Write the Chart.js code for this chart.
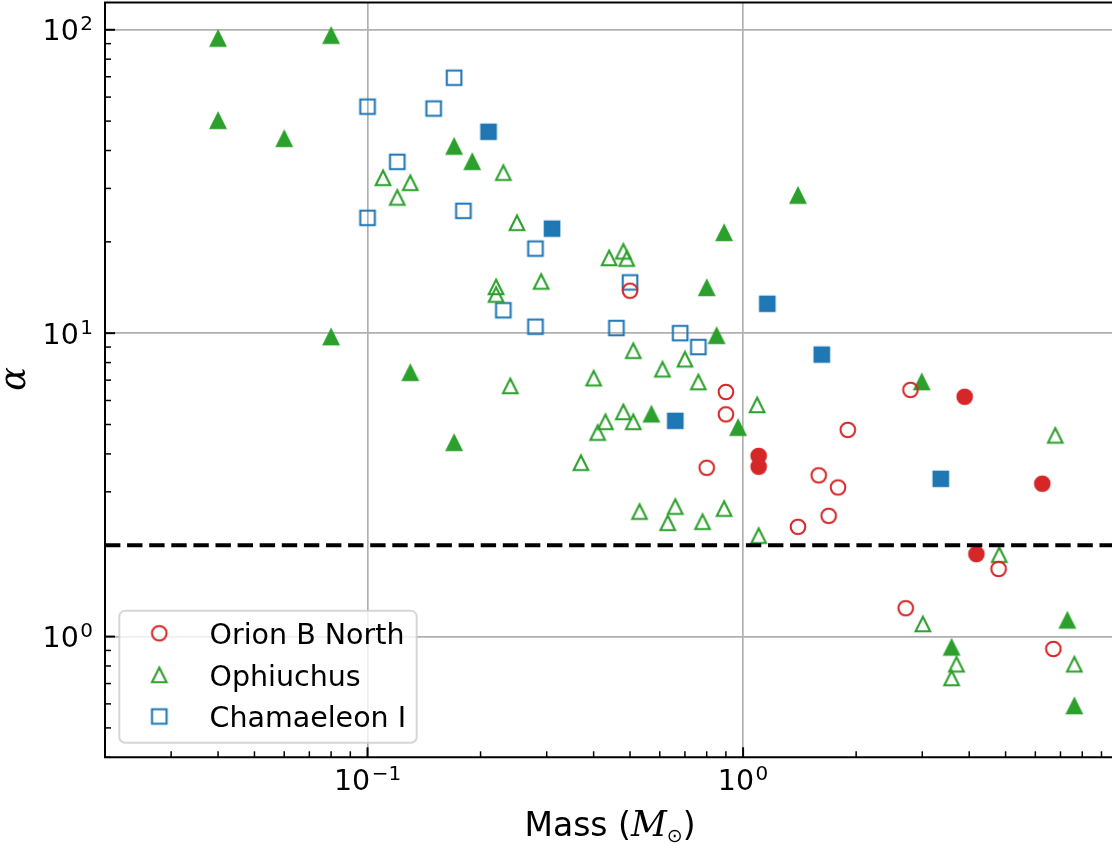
<!DOCTYPE html>
<html>
<head>
<meta charset="utf-8">
<script src="https://cdn.jsdelivr.net/npm/chart.js@4.4.0/dist/chart.umd.min.js"></script>
<style>
  html, body { margin: 0; padding: 0; background: #fff; }
  canvas { display: block; }
</style>
</head>
<body>
<canvas id="chart" width="1112" height="845"></canvas>
<script>
// Orion B North
const orionOpenMass = [0.50, 0.90, 0.90, 0.80, 1.90, 1.59, 1.79, 1.69, 1.40, 2.79, 4.79, 2.71, 6.70];
const orionOpenAlpha = [13.8, 6.4, 5.4, 3.6, 4.8, 3.4, 3.1, 2.5, 2.3, 6.5, 1.67, 1.24, 0.91];
const orionFilledMass = [1.10, 1.10, 3.89, 6.26, 4.18];
const orionFilledAlpha = [3.94, 3.63, 6.17, 3.19, 1.87];

// Ophiuchus
const ophOpenMass = [0.11, 0.13, 0.12, 0.23, 0.25, 0.44, 0.48, 0.49, 0.29, 0.22,
  0.22, 0.51, 0.70, 0.61, 0.40, 0.76, 0.24, 1.09, 0.48, 0.43,
  0.51, 0.41, 0.37, 0.53, 0.66, 0.63, 0.78, 0.89, 1.10, 6.78,
  4.81, 3.01, 3.70, 3.59, 7.62];
const ophOpenAlpha = [32.5, 31.3, 28.0, 33.8, 23.1, 17.7, 18.6, 17.6, 14.8, 14.2,
  13.4, 8.75, 8.2, 7.6, 7.1, 6.9, 6.7, 5.8, 5.5, 5.1,
  5.1, 4.7, 3.74, 2.58, 2.68, 2.37, 2.39, 2.64, 2.15, 4.6,
  1.86, 1.10, 0.81, 0.73, 0.81];
const ophFilledMass = [0.040, 0.080, 0.040, 0.060, 0.17, 0.19, 0.89, 0.80, 1.40, 0.080,
  0.13, 0.17, 0.57, 0.85, 0.97, 2.99, 3.59, 7.30, 7.62];
const ophFilledAlpha = [93.5, 95.6, 50.1, 43.7, 41.2, 36.7, 21.4, 14.1, 28.4, 9.7,
  7.4, 4.35, 5.4, 9.8, 4.88, 6.9, 0.92, 1.13, 0.59];

// Chamaeleon I
const chamOpenMass = [0.10, 0.10, 0.17, 0.15, 0.12, 0.18, 0.28, 0.50, 0.23, 0.28, 0.46, 0.68, 0.76];
const chamOpenAlpha = [55.8, 24.0, 69.5, 55.0, 36.7, 25.3, 19.0, 14.7, 11.9, 10.5, 10.4, 10.0, 9.0];
const chamFilledMass = [0.21, 0.31, 1.16, 1.62, 0.66, 3.36];
const chamFilledAlpha = [46.1, 22.1, 12.5, 8.5, 5.14, 3.31];

const seriesNames = ['Orion B North', 'Ophiuchus', 'Chamaeleon I'];
const seriesColors = ['#d62728', '#2ca02c', '#1f77b4'];
const seriesShapes = ['circle', 'triangle', 'square'];

const alphaLimit = 2;
const xMin = 0.02, xMax = 9.6;
const yMin = 0.4, yMax = 123;
const xTickValues = [0.1, 1];
const yTickValues = [1, 10, 100];

const TICK_FONT = '28.5px "DejaVu Sans"';
const SUP_FONT = '20px "DejaVu Sans"';

// matplotlib-like markers: size 14.6 px, edge width 2.08 px
const MS = 14.6, MEW = 2.08;
function makeMarker(shape, color, filled) {
  const c = document.createElement('canvas');
  c.width = c.height = 26;
  const g = c.getContext('2d');
  const h = MS / 2, o = 13;
  g.lineWidth = MEW;
  g.strokeStyle = color;
  g.fillStyle = color;
  g.lineJoin = 'miter';
  g.beginPath();
  if (shape === 'circle') {
    g.arc(o, o, h, 0, Math.PI * 2);
  } else if (shape === 'square') {
    g.rect(o - h, o - h, MS, MS);
  } else {
    g.moveTo(o, o - h);
    g.lineTo(o - h, o + h);
    g.lineTo(o + h, o + h);
    g.closePath();
  }
  if (filled) g.fill();
  g.stroke();
  return c;
}

const openMarkers = seriesShapes.map((s, i) => makeMarker(s, seriesColors[i], false));
const filledMarkers = seriesShapes.map((s, i) => makeMarker(s, seriesColors[i], true));

function points(mass, alpha) {
  return mass.map((m, i) => ({ x: m, y: alpha[i] }));
}

function scatterSet(mass, alpha, style) {
  return {
    data: points(mass, alpha),
    pointStyle: style,
    pointRadius: 8,
    pointHoverRadius: 8,
    showLine: false
  };
}

// "10" with a raised exponent
function drawPower(ctx, exp, x, baseline, align) {
  const base = '10';
  const sup = exp < 0 ? '\u2212' + (-exp) : String(exp);
  ctx.font = TICK_FONT;
  const w1 = ctx.measureText(base).width;
  ctx.font = SUP_FONT;
  const w2 = ctx.measureText(sup).width;
  const gap = 1.5;
  const total = w1 + gap + w2;
  const left = align === 'right' ? x - total : x - total / 2;
  ctx.font = TICK_FONT;
  ctx.fillText(base, left, baseline);
  ctx.font = SUP_FONT;
  ctx.fillText(sup, left + w1 + gap, baseline - 10);
}

const axesDecor = {
  id: 'axesDecor',
  afterDraw(chart) {
    const ctx = chart.ctx;
    const a = chart.chartArea;
    const xs = chart.scales.x, ys = chart.scales.y;
    ctx.save();
    ctx.fillStyle = '#000';
    ctx.strokeStyle = '#000';
    ctx.textAlign = 'left';
    ctx.textBaseline = 'alphabetic';

    // minor and major ticks pointing inwards
    for (let k = -1; k <= 2; k++) {
      for (let m = 1; m <= 9; m++) {
        const v = m * Math.pow(10, k);
        if (v < yMin || v > yMax) continue;
        const py = ys.getPixelForValue(v);
        ctx.lineWidth = m === 1 ? 2 : 1.5;
        ctx.beginPath();
        ctx.moveTo(a.left, py);
        ctx.lineTo(a.left + (m === 1 ? 10 : 6), py);
        ctx.stroke();
      }
    }
    for (let k = -2; k <= 0; k++) {
      for (let m = 1; m <= 9; m++) {
        const v = m * Math.pow(10, k);
        if (v < xMin || v > xMax) continue;
        const px = xs.getPixelForValue(v);
        ctx.lineWidth = m === 1 ? 2 : 1.5;
        ctx.beginPath();
        ctx.moveTo(px, a.bottom);
        ctx.lineTo(px, a.bottom - (m === 1 ? 10 : 6));
        ctx.stroke();
      }
    }

    // spines
    ctx.lineWidth = 2;
    ctx.beginPath();
    ctx.moveTo(a.left, a.top);
    ctx.lineTo(a.right, a.top);
    ctx.moveTo(a.left, a.top - 1);
    ctx.lineTo(a.left, a.bottom + 1);
    ctx.moveTo(a.left, a.bottom);
    ctx.lineTo(a.right, a.bottom);
    ctx.stroke();

    // tick labels
    yTickValues.forEach(v => {
      const py = ys.getPixelForValue(v);
      drawPower(ctx, Math.round(Math.log10(v)), 93, py + 10.5, 'right');
    });
    xTickValues.forEach(v => {
      const px = xs.getPixelForValue(v);
      drawPower(ctx, Math.round(Math.log10(v)), px, 790, 'center');
    });

    // x axis title: Mass (M_sun)
    const parts = [
      { t: 'Mass (', f: '33px "DejaVu Sans"', dy: 0 },
      { t: 'M', f: 'italic 35px "DejaVu Serif"', dy: 0 },
      { t: '\u2299', f: '19px "DejaVu Sans"', dy: 6 },
      { t: ')', f: '33px "DejaVu Sans"', dy: 0 }
    ];
    let total = 0;
    parts.forEach(p => { ctx.font = p.f; p.w = ctx.measureText(p.t).width; total += p.w; });
    let cx = 610 - total / 2;
    parts.forEach(p => {
      ctx.font = p.f;
      ctx.fillText(p.t, cx, 836 + p.dy);
      cx += p.w;
    });

    // y axis title: alpha
    ctx.save();
    ctx.translate(25, 379);
    ctx.rotate(-Math.PI / 2);
    ctx.font = 'italic 35px "DejaVu Serif"';
    ctx.textAlign = 'center';
    ctx.fillText('\u03b1', 0, 0);
    ctx.restore();

    // legend box
    const lx = 119.3, ly = 610.7, lw = 297.4, lh = 132, r = 5.8;
    ctx.beginPath();
    ctx.roundRect(lx, ly, lw, lh, r);
    ctx.fillStyle = 'rgba(255,255,255,0.8)';
    ctx.fill();
    ctx.lineWidth = 2;
    ctx.strokeStyle = 'rgba(204,204,204,0.8)';
    ctx.stroke();
    ctx.fillStyle = '#000';
    ctx.font = TICK_FONT;
    seriesNames.forEach((name, i) => {
      const my = 633.3 + i * 41.6;
      const mk = openMarkers[i];
      ctx.drawImage(mk, 159.3 - mk.width / 2, my - mk.height / 2);
      ctx.fillText(name, 209.5, my + 10.6);
    });

    ctx.restore();
  }
};

Chart.defaults.font.family = '"DejaVu Sans"';

new Chart(document.getElementById('chart'), {
  type: 'scatter',
  data: {
    datasets: [
      {
        data: [{ x: xMin, y: alphaLimit }, { x: xMax, y: alphaLimit }],
        showLine: true,
        borderColor: '#000',
        borderWidth: 4.17,
        borderDash: [15.4, 6.7],
        pointRadius: 0,
        pointHoverRadius: 0,
        fill: false
      },
      scatterSet(orionOpenMass, orionOpenAlpha, openMarkers[0]),
      scatterSet(orionFilledMass, orionFilledAlpha, filledMarkers[0]),
      scatterSet(ophOpenMass, ophOpenAlpha, openMarkers[1]),
      scatterSet(ophFilledMass, ophFilledAlpha, filledMarkers[1]),
      scatterSet(chamOpenMass, chamOpenAlpha, openMarkers[2]),
      scatterSet(chamFilledMass, chamFilledAlpha, filledMarkers[2])
    ]
  },
  options: {
    responsive: false,
    animation: false,
    events: [],
    layout: { autoPadding: false, padding: { left: 0, right: 0, top: 2.5, bottom: 0 } },
    plugins: {
      legend: { display: false },
      tooltip: { enabled: false }
    },
    scales: {
      x: {
        type: 'logarithmic',
        min: xMin,
        max: xMax,
        ticks: { display: false },
        grid: { color: '#b0b0b0', lineWidth: 1.67, drawTicks: false },
        border: { display: false },
        afterBuildTicks: s => { s.ticks = xTickValues.map(v => ({ value: v })); },
        afterFit: s => { s.height = 87.7; }
      },
      y: {
        type: 'logarithmic',
        min: yMin,
        max: yMax,
        ticks: { display: false },
        grid: { color: '#b0b0b0', lineWidth: 1.67, drawTicks: false },
        border: { display: false },
        afterBuildTicks: s => { s.ticks = yTickValues.map(v => ({ value: v })); },
        afterFit: s => { s.width = 105; }
      }
    }
  },
  plugins: [axesDecor]
});
</script>
</body>
</html>
